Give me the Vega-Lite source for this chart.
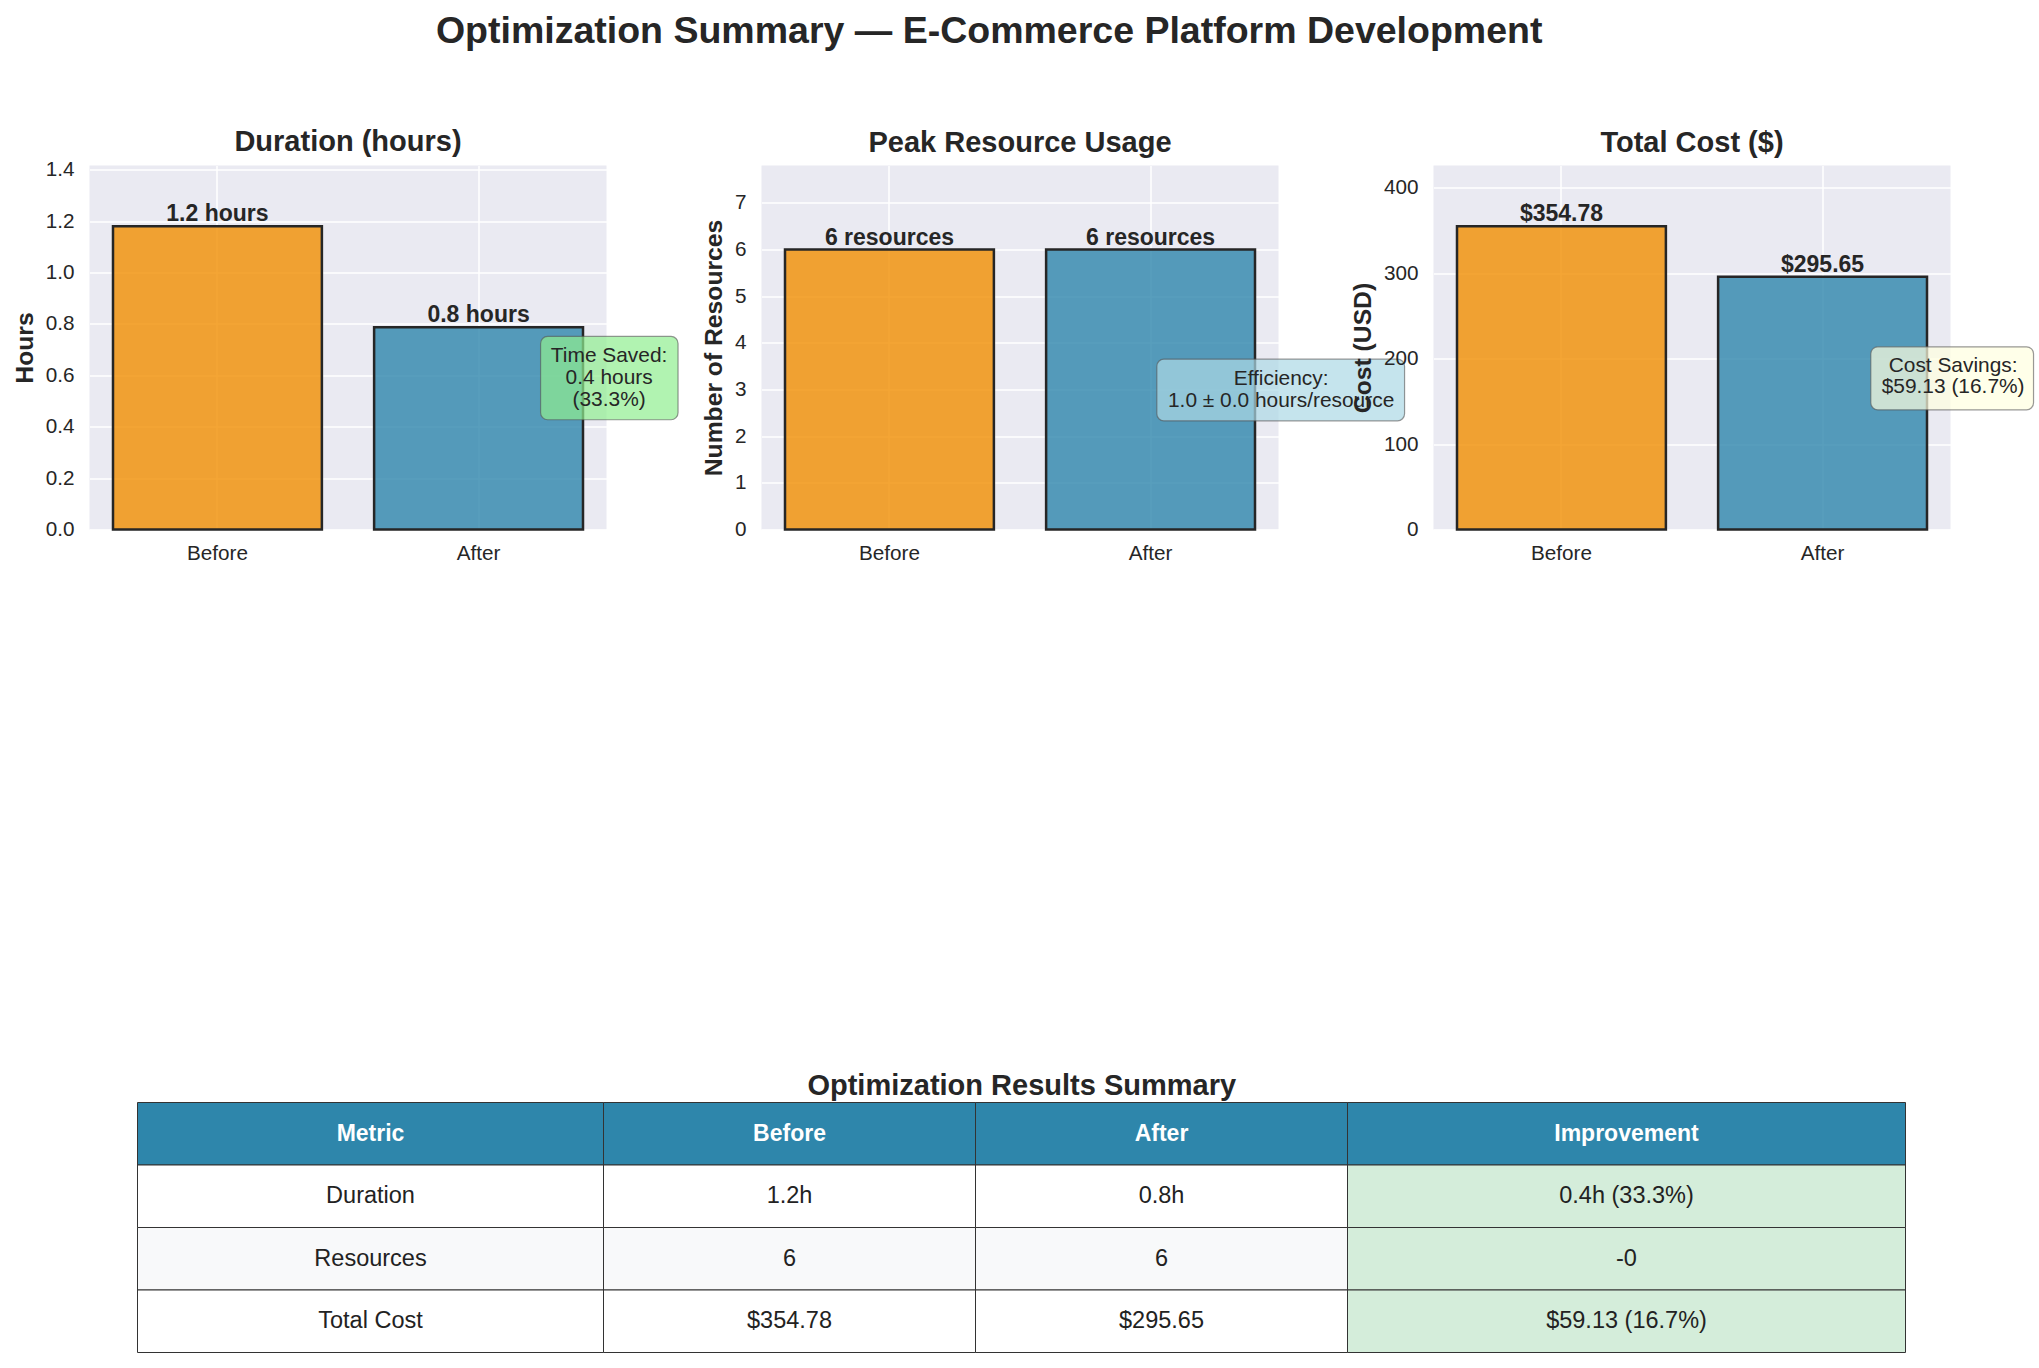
{
  "$schema": "https://vega.github.io/schema/vega-lite/v6.json",
  "background": "white",
  "padding": {"left": 11.5, "top": 12.5, "right": 2, "bottom": 5},
  "title": {"text": "Optimization Summary — E-Commerce Platform Development", "fontSize": 37.5, "offset": 77.5, "anchor": "middle", "dx": -34},
  "config": {
    "font": "Liberation Sans",
    "view": {"stroke": null},
    "axis": {"domain": false, "ticks": false, "tickSize": 0, "labelFont": "Liberation Sans", "labelFontSize": 20.7, "labelColor": "#262626", "labelPadding": 15.5, "titleFont": "Liberation Sans", "titleFontSize": 24.7, "titleFontWeight": "bold", "titleColor": "#262626", "gridColor": "#FFFFFF", "gridWidth": 1.5, "gridOpacity": 1},
    "axisX": {"labelPadding": 13.5},
    "axisY": {"titlePadding": 8},
    "title": {"font": "Liberation Sans", "fontSize": 29, "fontWeight": "bold", "color": "#262626", "anchor": "middle", "offset": 8},
    "text": {"font": "Liberation Sans"}
  },
  "datasets": {
    "bars": [
      {"panel": "duration", "phase": "Before", "value": 1.18, "label": "1.2 hours"},
      {"panel": "duration", "phase": "After", "value": 0.787, "label": "0.8 hours"},
      {"panel": "resources", "phase": "Before", "value": 6, "label": "6 resources"},
      {"panel": "resources", "phase": "After", "value": 6, "label": "6 resources"},
      {"panel": "cost", "phase": "Before", "value": 354.78, "label": "$354.78"},
      {"panel": "cost", "phase": "After", "value": 295.65, "label": "$295.65"}
    ],
    "notes": [
      {"panel": "duration", "text": "Time Saved:\n0.4 hours\n(33.3%)"},
      {"panel": "resources", "text": "Efficiency:\n1.0 ± 0.0 hours/resource"},
      {"panel": "cost", "text": "Cost Savings:\n$59.13 (16.7%)"}
    ],
    "cells": [
      {"row": "Header", "column": "Metric", "value": "Metric"},
      {"row": "Header", "column": "Before", "value": "Before"},
      {"row": "Header", "column": "After", "value": "After"},
      {"row": "Header", "column": "Improvement", "value": "Improvement"},
      {"row": "Duration", "column": "Metric", "value": "Duration"},
      {"row": "Duration", "column": "Before", "value": "1.2h"},
      {"row": "Duration", "column": "After", "value": "0.8h"},
      {"row": "Duration", "column": "Improvement", "value": "0.4h (33.3%)"},
      {"row": "Resources", "column": "Metric", "value": "Resources"},
      {"row": "Resources", "column": "Before", "value": "6"},
      {"row": "Resources", "column": "After", "value": "6"},
      {"row": "Resources", "column": "Improvement", "value": "-0"},
      {"row": "Total Cost", "column": "Metric", "value": "Total Cost"},
      {"row": "Total Cost", "column": "Before", "value": "$354.78"},
      {"row": "Total Cost", "column": "After", "value": "$295.65"},
      {"row": "Total Cost", "column": "Improvement", "value": "$59.13 (16.7%)"}
    ]
  },
  "vconcat": [
    {
      "hconcat": [
        {
          "width": 517, "height": 364,
          "view": {"fill": "#EAEAF2", "stroke": null},
          "title": {"text": "Duration (hours)", "offset": 1.5},
          "encoding": {
            "x": {"field": "phase", "type": "nominal", "scale": {"type": "band", "domain": ["Before", "After"], "paddingInner": 0.2, "paddingOuter": 0.09}, "axis": {"title": null, "labelAngle": 0, "grid": true, "bandPosition": 0.5}}
          },
          "layer": [
            {
              "data": {"name": "bars"},
              "transform": [{"filter": "datum.panel === 'duration'"}],
              "mark": {"type": "bar", "fillOpacity": 0.8, "stroke": "#262626", "strokeWidth": 2.5},
              "encoding": {
                "y": {"field": "value", "type": "quantitative", "scale": {"domain": [0, 1.416], "nice": false, "zero": true}, "axis": {"title": "Hours", "values": [0, 0.2, 0.4, 0.6, 0.8, 1.0, 1.2, 1.4], "format": ".1f"}},
                "color": {"field": "phase", "type": "nominal", "scale": {"domain": ["Before", "After"], "range": ["#F18F01", "#2E86AB"]}, "legend": null}
              }
            },
            {
              "data": {"name": "bars"},
              "transform": [{"filter": "datum.panel === 'duration'"}],
              "mark": {"type": "text", "baseline": "bottom", "fontSize": 23, "fontWeight": "bold", "color": "#262626"},
              "encoding": {
                "y": {"field": "value", "type": "quantitative"},
                "text": {"field": "label"}
              }
            },
            {
              "data": {"name": "notes"},
              "transform": [{"filter": "datum.panel === 'duration'"}],
              "mark": {"type": "rect", "fill": "#90EE90", "fillOpacity": 0.7, "stroke": "#555555", "strokeOpacity": 0.6, "strokeWidth": 1.2, "cornerRadius": 7},
              "encoding": {
                "x": {"datum": "After", "type": "nominal", "scale": {"type": "band"}, "bandPosition": 0.797},
                "x2": {"datum": "After", "bandPosition": 1.455},
                "y": {"datum": 0.751, "type": "quantitative"},
                "y2": {"datum": 0.427}
              }
            },
            {
              "data": {"name": "notes"},
              "transform": [{"filter": "datum.panel === 'duration'"}],
              "mark": {"type": "text", "lineBreak": "\n", "fontSize": 20.9, "lineHeight": 21.7, "baseline": "middle", "color": "#262626"},
              "encoding": {
                "x": {"datum": "After", "type": "nominal", "scale": {"type": "band"}, "bandPosition": 1.125},
                "y": {"datum": 0.673, "type": "quantitative"},
                "text": {"field": "text"}
              }
            }
          ]
        },
        {
          "width": 517, "height": 364,
          "view": {"fill": "#EAEAF2", "stroke": null},
          "title": {"text": "Peak Resource Usage"},
          "encoding": {
            "x": {"field": "phase", "type": "nominal", "scale": {"type": "band", "domain": ["Before", "After"], "paddingInner": 0.2, "paddingOuter": 0.09}, "axis": {"title": null, "labelAngle": 0, "grid": true, "bandPosition": 0.5}}
          },
          "layer": [
            {
              "data": {"name": "bars"},
              "transform": [{"filter": "datum.panel === 'resources'"}],
              "mark": {"type": "bar", "fillOpacity": 0.8, "stroke": "#262626", "strokeWidth": 2.5},
              "encoding": {
                "y": {"field": "value", "type": "quantitative", "scale": {"domain": [0, 7.8], "nice": false, "zero": true}, "axis": {"title": "Number of Resources", "values": [0, 1, 2, 3, 4, 5, 6, 7], "format": "d"}},
                "color": {"field": "phase", "type": "nominal", "scale": {"domain": ["Before", "After"], "range": ["#F18F01", "#2E86AB"]}, "legend": null}
              }
            },
            {
              "data": {"name": "bars"},
              "transform": [{"filter": "datum.panel === 'resources'"}],
              "mark": {"type": "text", "baseline": "bottom", "fontSize": 23, "fontWeight": "bold", "color": "#262626"},
              "encoding": {
                "y": {"field": "value", "type": "quantitative"},
                "text": {"field": "label"}
              }
            },
            {
              "data": {"name": "notes"},
              "transform": [{"filter": "datum.panel === 'resources'"}],
              "mark": {"type": "rect", "fill": "#ADD8E6", "fillOpacity": 0.7, "stroke": "#555555", "strokeOpacity": 0.6, "strokeWidth": 1.2, "cornerRadius": 7},
              "encoding": {
                "x": {"datum": "After", "type": "nominal", "scale": {"type": "band"}, "bandPosition": 0.53},
                "x2": {"datum": "After", "bandPosition": 1.716},
                "y": {"datum": 3.649, "type": "quantitative"},
                "y2": {"datum": 2.329}
              }
            },
            {
              "data": {"name": "notes"},
              "transform": [{"filter": "datum.panel === 'resources'"}],
              "mark": {"type": "text", "lineBreak": "\n", "fontSize": 20.9, "lineHeight": 21.7, "baseline": "middle", "color": "#262626"},
              "encoding": {
                "x": {"datum": "After", "type": "nominal", "scale": {"type": "band"}, "bandPosition": 1.125},
                "y": {"datum": 3.225, "type": "quantitative"},
                "text": {"field": "text"}
              }
            }
          ]
        },
        {
          "width": 517, "height": 364,
          "view": {"fill": "#EAEAF2", "stroke": null},
          "title": {"text": "Total Cost ($)"},
          "encoding": {
            "x": {"field": "phase", "type": "nominal", "scale": {"type": "band", "domain": ["Before", "After"], "paddingInner": 0.2, "paddingOuter": 0.09}, "axis": {"title": null, "labelAngle": 0, "grid": true, "bandPosition": 0.5}}
          },
          "layer": [
            {
              "data": {"name": "bars"},
              "transform": [{"filter": "datum.panel === 'cost'"}],
              "mark": {"type": "bar", "fillOpacity": 0.8, "stroke": "#262626", "strokeWidth": 2.5},
              "encoding": {
                "y": {"field": "value", "type": "quantitative", "scale": {"domain": [0, 425.736], "nice": false, "zero": true}, "axis": {"title": "Cost (USD)", "values": [0, 100, 200, 300, 400], "format": "d"}},
                "color": {"field": "phase", "type": "nominal", "scale": {"domain": ["Before", "After"], "range": ["#F18F01", "#2E86AB"]}, "legend": null}
              }
            },
            {
              "data": {"name": "bars"},
              "transform": [{"filter": "datum.panel === 'cost'"}],
              "mark": {"type": "text", "baseline": "bottom", "fontSize": 23, "fontWeight": "bold", "color": "#262626"},
              "encoding": {
                "y": {"field": "value", "type": "quantitative"},
                "text": {"field": "label"}
              }
            },
            {
              "data": {"name": "notes"},
              "transform": [{"filter": "datum.panel === 'cost'"}],
              "mark": {"type": "rect", "fill": "#FFFFE0", "fillOpacity": 0.7, "stroke": "#555555", "strokeOpacity": 0.6, "strokeWidth": 1.2, "cornerRadius": 7},
              "encoding": {
                "x": {"datum": "After", "type": "nominal", "scale": {"type": "band"}, "bandPosition": 0.731},
                "x2": {"datum": "After", "bandPosition": 1.51},
                "y": {"datum": 213.7, "type": "quantitative"},
                "y2": {"datum": 140.0}
              }
            },
            {
              "data": {"name": "notes"},
              "transform": [{"filter": "datum.panel === 'cost'"}],
              "mark": {"type": "text", "lineBreak": "\n", "fontSize": 20.9, "lineHeight": 21.7, "baseline": "middle", "color": "#262626"},
              "encoding": {
                "x": {"datum": "After", "type": "nominal", "scale": {"type": "band"}, "bandPosition": 1.125},
                "y": {"datum": 191.5, "type": "quantitative"},
                "text": {"field": "text"}
              }
            }
          ]
        }
      ],
      "spacing": 155,
      "bounds": "flush",
      "resolve": {"scale": {"x": "independent", "y": "independent"}}
    },
    {
      "title": {"text": "Optimization Results Summary", "offset": 1.5, "dx": 24},
      "data": {"name": "cells"},
      "hconcat": [
        {
          "width": 47.5, "height": 250,
          "data": {"values": []},
          "mark": "rect"
        },
        {
          "width": 466, "height": 250,
          "transform": [{"filter": "datum.column === 'Metric'"}],
          "encoding": {"y": {"field": "row", "type": "nominal", "scale": {"type": "band", "domain": ["Header", "Duration", "Resources", "Total Cost"], "paddingInner": 0, "paddingOuter": 0}, "axis": null}},
          "layer": [
            {"mark": {"type": "rect", "stroke": "#333333", "strokeWidth": 1},
             "encoding": {"x": {"value": 0}, "x2": {"value": "width"},
               "fill": {"condition": [{"test": "datum.row === 'Header'", "value": "#2E86AB"}, {"test": "datum.column === 'Improvement'", "value": "#D4EDDA"}, {"test": "datum.row === 'Resources'", "value": "#F8F9FA"}], "value": "#FFFFFF"}}},
            {"transform": [{"filter": "datum.row === 'Header'"}],
             "mark": {"type": "text", "fontSize": 23, "fontWeight": "bold", "color": "#FFFFFF", "baseline": "middle"},
             "encoding": {"x": {"field": "column", "type": "nominal", "axis": null}, "text": {"field": "value"}}},
            {"transform": [{"filter": "datum.row !== 'Header'"}],
             "mark": {"type": "text", "fontSize": 23.5, "color": "#222222", "baseline": "middle"},
             "encoding": {"x": {"field": "column", "type": "nominal", "axis": null}, "text": {"field": "value"}}}
          ]
        },
        {
          "width": 372, "height": 250,
          "transform": [{"filter": "datum.column === 'Before'"}],
          "encoding": {"y": {"field": "row", "type": "nominal", "scale": {"type": "band", "domain": ["Header", "Duration", "Resources", "Total Cost"], "paddingInner": 0, "paddingOuter": 0}, "axis": null}},
          "layer": [
            {"mark": {"type": "rect", "stroke": "#333333", "strokeWidth": 1},
             "encoding": {"x": {"value": 0}, "x2": {"value": "width"},
               "fill": {"condition": [{"test": "datum.row === 'Header'", "value": "#2E86AB"}, {"test": "datum.column === 'Improvement'", "value": "#D4EDDA"}, {"test": "datum.row === 'Resources'", "value": "#F8F9FA"}], "value": "#FFFFFF"}}},
            {"transform": [{"filter": "datum.row === 'Header'"}],
             "mark": {"type": "text", "fontSize": 23, "fontWeight": "bold", "color": "#FFFFFF", "baseline": "middle"},
             "encoding": {"x": {"field": "column", "type": "nominal", "axis": null}, "text": {"field": "value"}}},
            {"transform": [{"filter": "datum.row !== 'Header'"}],
             "mark": {"type": "text", "fontSize": 23.5, "color": "#222222", "baseline": "middle"},
             "encoding": {"x": {"field": "column", "type": "nominal", "axis": null}, "text": {"field": "value"}}}
          ]
        },
        {
          "width": 372, "height": 250,
          "transform": [{"filter": "datum.column === 'After'"}],
          "encoding": {"y": {"field": "row", "type": "nominal", "scale": {"type": "band", "domain": ["Header", "Duration", "Resources", "Total Cost"], "paddingInner": 0, "paddingOuter": 0}, "axis": null}},
          "layer": [
            {"mark": {"type": "rect", "stroke": "#333333", "strokeWidth": 1},
             "encoding": {"x": {"value": 0}, "x2": {"value": "width"},
               "fill": {"condition": [{"test": "datum.row === 'Header'", "value": "#2E86AB"}, {"test": "datum.column === 'Improvement'", "value": "#D4EDDA"}, {"test": "datum.row === 'Resources'", "value": "#F8F9FA"}], "value": "#FFFFFF"}}},
            {"transform": [{"filter": "datum.row === 'Header'"}],
             "mark": {"type": "text", "fontSize": 23, "fontWeight": "bold", "color": "#FFFFFF", "baseline": "middle"},
             "encoding": {"x": {"field": "column", "type": "nominal", "axis": null}, "text": {"field": "value"}}},
            {"transform": [{"filter": "datum.row !== 'Header'"}],
             "mark": {"type": "text", "fontSize": 23.5, "color": "#222222", "baseline": "middle"},
             "encoding": {"x": {"field": "column", "type": "nominal", "axis": null}, "text": {"field": "value"}}}
          ]
        },
        {
          "width": 558, "height": 250,
          "transform": [{"filter": "datum.column === 'Improvement'"}],
          "encoding": {"y": {"field": "row", "type": "nominal", "scale": {"type": "band", "domain": ["Header", "Duration", "Resources", "Total Cost"], "paddingInner": 0, "paddingOuter": 0}, "axis": null}},
          "layer": [
            {"mark": {"type": "rect", "stroke": "#333333", "strokeWidth": 1},
             "encoding": {"x": {"value": 0}, "x2": {"value": "width"},
               "fill": {"condition": [{"test": "datum.row === 'Header'", "value": "#2E86AB"}, {"test": "datum.column === 'Improvement'", "value": "#D4EDDA"}, {"test": "datum.row === 'Resources'", "value": "#F8F9FA"}], "value": "#FFFFFF"}}},
            {"transform": [{"filter": "datum.row === 'Header'"}],
             "mark": {"type": "text", "fontSize": 23, "fontWeight": "bold", "color": "#FFFFFF", "baseline": "middle"},
             "encoding": {"x": {"field": "column", "type": "nominal", "axis": null}, "text": {"field": "value"}}},
            {"transform": [{"filter": "datum.row !== 'Header'"}],
             "mark": {"type": "text", "fontSize": 23.5, "color": "#222222", "baseline": "middle"},
             "encoding": {"x": {"field": "column", "type": "nominal", "axis": null}, "text": {"field": "value"}}}
          ]
        }
      ],
      "spacing": 0,
      "bounds": "flush",
      "resolve": {"scale": {"x": "independent", "y": "independent"}}
    }
  ],
  "spacing": 508,
  "resolve": {"scale": {"x": "independent", "y": "independent"}}
}
